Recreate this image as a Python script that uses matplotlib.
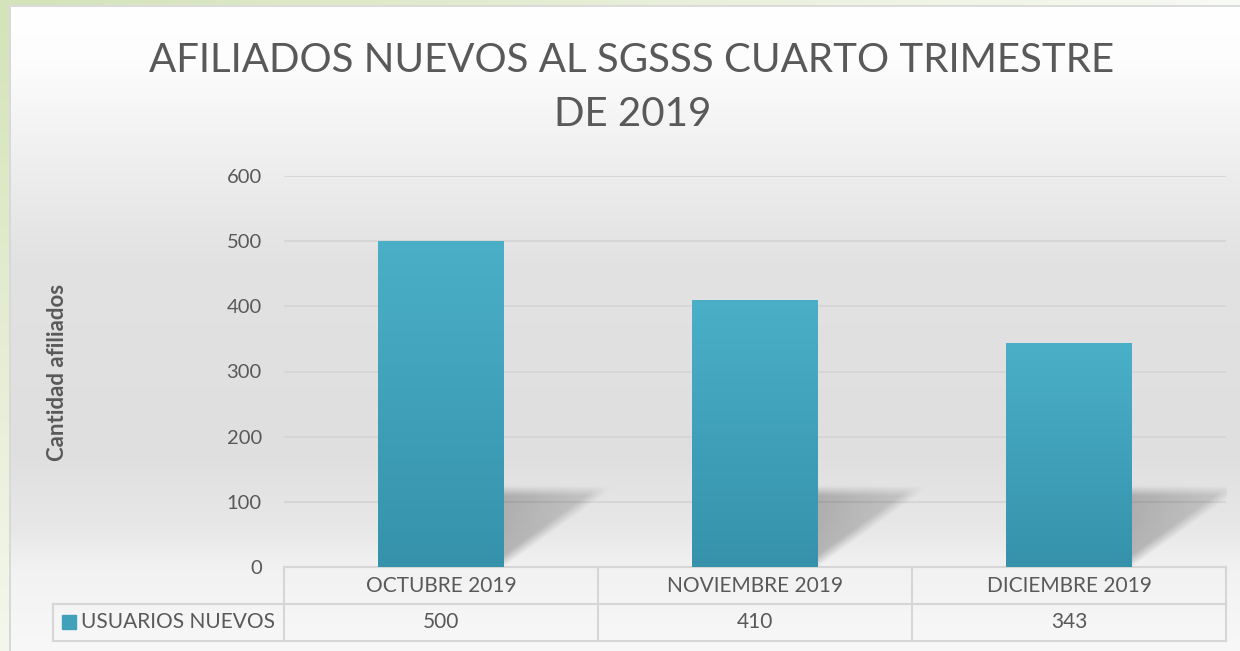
import numpy as np
import matplotlib
matplotlib.use("Agg")
import matplotlib.pyplot as plt
from matplotlib.lines import Line2D
from matplotlib.patches import Rectangle
from matplotlib.transforms import blended_transform_factory

# ---- data ----
categories = ["OCTUBRE 2019", "NOVIEMBRE 2019", "DICIEMBRE 2019"]
values = [500, 410, 343]
series_name = "USUARIOS NUEVOS"
title_lines = ["AFILIADOS NUEVOS AL SGSSS CUARTO TRIMESTRE", "DE 2019"]
y_label = "Cantidad afiliados"
y_ticks = [0, 100, 200, 300, 400, 500, 600]

FONT = ["Lato", "DejaVu Sans"]
plt.rcParams["font.family"] = FONT
TXT = "#595959"
GRID = "#d4d4d4"
TOP_C = np.array([75, 175, 200]) / 255
BOT_C = np.array([54, 146, 171]) / 255

W, H = 1240, 651
fig = plt.figure(figsize=(W / 100, H / 100), dpi=100)


def fx(px):
    return px / W


def fy(py):
    return 1 - py / H


# ---- background ----
yy = np.arange(H)
gray = np.interp(yy, [6, 60, 150, 260, 450, 530, 570, 651],
                 [255, 253, 240, 226, 223, 232, 242, 248]) / 255
bg = np.ones((H, W, 3)) * gray[:, None, None]
green = np.array([212, 227, 185]) / 255
light = np.array([244, 247, 236]) / 255
tv = np.clip(yy / H, 0, 1)[:, None]
left_col = green * (1 - tv) + light * tv
bg[:, :9, :] = left_col[:, None, :]
tx = np.clip(np.arange(W) / W, 0, 1)[:, None]
top_row = green * (1 - tx) + np.array([248, 250, 244]) / 255 * tx
bg[:5, :, :] = top_row[None, :, :]
bg[5:, 9:11, :] = 0.85
bg[5:7, 9:, :] = 0.86
bax = fig.add_axes([0, 0, 1, 1])
bax.imshow(bg, extent=[0, 1, 0, 1], aspect="auto", origin="upper")
bax.axis("off")

# ---- title ----
fig.text(fx(632), fy(60), title_lines[0], ha="center", va="center",
         fontsize=29, color=TXT)
fig.text(fx(633), fy(115), title_lines[1], ha="center", va="center",
         fontsize=29, color=TXT)

# ---- main axes ----
ax = fig.add_axes([fx(284), fy(567), fx(1226) - fx(284), fy(176) - fy(567)])
ax.set_facecolor("none")
x = np.arange(len(categories))
ax.set_xlim(-0.5, len(categories) - 0.5)
ax.set_ylim(0, 600)
ax.set_yticks(y_ticks)
ax.set_xticks([])
ax.tick_params(axis="y", length=0, pad=16, labelsize=14.5, labelcolor=TXT)
for s in ax.spines.values():
    s.set_visible(False)
for t in y_ticks[1:]:
    ax.axhline(t, color=GRID, lw=1.2, zorder=0)

# shadows
bw = 0.4
nu, nv = 120, 120
uu, vv = np.meshgrid(np.linspace(0, 1, nu), np.linspace(0, 1, nv))
d1 = np.clip((vv - uu * 0.98) / 0.14, 0, 1)
d2 = np.clip((0.93 - vv) / 0.12, 0, 1)
fade = 1 - 0.55 * uu
alpha = 0.24 * d1 * d2 * fade
shadow = np.zeros((nv, nu, 4))
shadow[..., 3] = alpha
for xi in x:
    xr = xi + bw / 2
    ax.imshow(shadow, extent=[xr, xr + 0.38, 0, 135], aspect="auto",
              origin="lower", zorder=1, interpolation="bilinear")

# bars with gradient
bars = ax.bar(x, values, width=bw, color=(TOP_C + BOT_C) / 2, zorder=2)
grad = np.linspace(0, 1, 256)[:, None, None]
for b in bars:
    x0, w, h = b.get_x(), b.get_width(), b.get_height()
    img = BOT_C * (1 - grad) + TOP_C * grad
    im = ax.imshow(img, extent=[x0, x0 + w, 0, h], aspect="auto",
                   origin="lower", zorder=3)
    im.set_clip_path(b)
ax.set_xlim(-0.5, len(categories) - 0.5)
ax.set_ylim(0, 600)

# y label
fig.text(fx(58), fy(372), y_label, rotation=90, ha="center", va="center",
         fontsize=16, fontweight="bold", color=TXT)

# ---- data table ----
LC = "#d6d6d6"
ax_h = 567 - 176
r1 = -37 / ax_h
r2 = -74 / ax_h
tr = blended_transform_factory(ax.transData, ax.transAxes)
bounds = [xi - 0.5 for xi in x] + [x[-1] + 0.5]
for bx in bounds:
    ax.add_line(Line2D([bx, bx], [0, r2], transform=tr, color=LC, lw=1.5,
                       clip_on=False))
leg_left = -0.5 - (284 - 53) / 314
for yv in [0, r1, r2]:
    xs = bounds[0] if yv == 0 else leg_left
    ax.add_line(Line2D([xs, bounds[-1]], [yv, yv], transform=tr, color=LC,
                       lw=1.5, clip_on=False))
ax.add_line(Line2D([leg_left, leg_left], [r1, r2], transform=tr, color=LC,
                   lw=1.5, clip_on=False))
for xi, c, v in zip(x, categories, values):
    ax.text(xi, r1 / 2, c, transform=tr, ha="center", va="center",
            fontsize=15, color=TXT)
    ax.text(xi, (r1 + r2) / 2, str(v), transform=tr, ha="center",
            va="center", fontsize=15, color=TXT)
key = Rectangle((fx(62), fy(629)), fx(14), fy(615) - fy(629),
                transform=fig.transFigure, color=(TOP_C + BOT_C) / 2)
fig.add_artist(key)
fig.text(fx(81), fy(622), series_name, ha="left", va="center",
         fontsize=15, color=TXT)

fig.savefig("out.png", dpi=100)
